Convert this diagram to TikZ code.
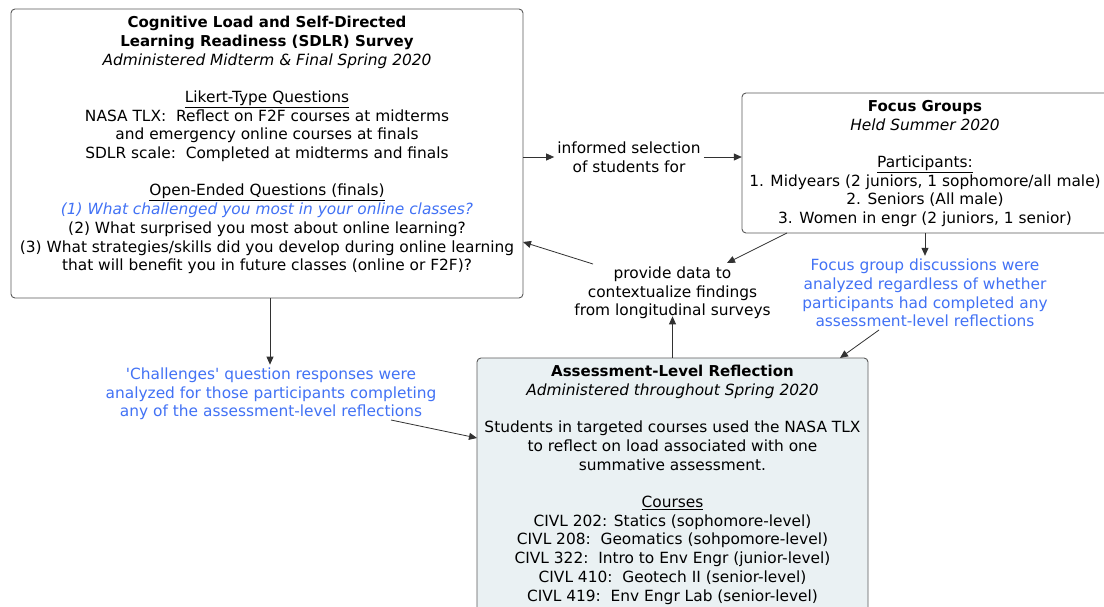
\documentclass[tikz,border=0pt]{standalone}
\usepackage{fontspec}
\setmainfont{DejaVu Sans}
\usetikzlibrary{arrows.meta,calc}
\definecolor{bluetxt}{RGB}{66,114,245}
\definecolor{boxline}{RGB}{90,90,90}
\definecolor{arrline}{RGB}{50,50,50}
\definecolor{boxfill}{RGB}{234,241,243}
\newcommand{\hd}[1]{{\fontsize{15}{18.7}\selectfont\bfseries #1}}
\tikzset{
  box/.style={draw=boxline, line width=0.9pt, rounded corners=4pt},
  txt/.style={align=center, inner sep=0pt, font=\fontsize{15.4}{18.7}\selectfont, text=black},
  bluetext/.style={txt, text=bluetxt},
  conn/.style={draw=arrline, line width=0.8pt, -{Triangle[length=8pt,width=7pt]}},
}
\begin{document}
\begin{tikzpicture}[x=1pt,y=-1pt]
\clip (0,0) rectangle (1104,606);
\fill[white] (0,0) rectangle (1104,606);
% boxes
\draw[box] (11,9) rectangle (523,298);
\node[inner sep=0pt, minimum width=512pt, minimum height=289pt] (box1) at (267,153.5) {};
\draw[box] (742,93) rectangle (1130,233);
\node[inner sep=0pt, minimum width=388pt, minimum height=140pt] (box2) at (936,163) {};
\draw[box, fill=boxfill] (477,358) rectangle (868,640);
\node[inner sep=0pt, minimum width=391pt, minimum height=282pt] (box3) at (672.5,499) {};
% box texts
\node[txt, anchor=north] (t1) at (267,16) {\hd{Cognitive Load and Self-Directed}\\
\hd{Learning Readiness (SDLR) Survey}\\
\textit{Administered Midterm \& Final Spring 2020}\\[18.7pt]
\underline{Likert-Type Questions}\\
NASA TLX:\ \ Reflect on F2F courses at midterms\\
and emergency online courses at finals\\
SDLR scale:\ \ Completed at midterms and finals\\[18.7pt]
\underline{Open-Ended Questions (finals)}\\
\textcolor{bluetxt}{\textit{(1) What challenged you most in your online classes?}}\\
(2) What surprised you most about online learning?\\
(3) What strategies/skills did you develop during online learning\\
that will benefit you in future classes (online or F2F)?};
\node[txt, anchor=north] (t2) at (925,100) {\hd{Focus Groups}\\
\textit{Held Summer 2020}\\[18.7pt]
\underline{Participants:}\\
1. Midyears (2 juniors, 1 sophomore/all male)\\
2. Seniors (All male)\\
3. Women in engr (2 juniors, 1 senior)};
\node[txt, anchor=north] (t3) at (672.5,365) {\hd{Assessment-Level Reflection}\\
\textit{Administered throughout Spring 2020}\\[18.7pt]
Students in targeted courses used the NASA TLX\\
to reflect on load associated with one\\
summative assessment.\\[18.7pt]
\underline{Courses}\\
CIVL 202: Statics (sophomore-level)\\
CIVL 208:\ \ Geomatics (sohpomore-level)\\
CIVL 322:\ \ Intro to Env Engr (junior-level)\\
CIVL 410:\ \ Geotech II (senior-level)\\
CIVL 419:\ \ Env Engr Lab (senior-level)};
% labels
\node[txt, inner xsep=3pt] (sel) at (629,157) {informed selection\\of students for};
\node[txt] (prov) at (672.5,293) {provide data to\\contextualize findings\\from longitudinal surveys};
\node[bluetext] (chal) at (271,394) {\textquotesingle Challenges\textquotesingle\ question responses were\\analyzed for those participants completing\\any of the assessment-level reflections};
\node[bluetext] (fgd) at (925,293) {Focus group discussions were\\analyzed regardless of whether\\participants had completed any\\assessment-level reflections};
% connector end points
\coordinate (a3s) at (787,233);
\coordinate (a3e) at (727,263);
\coordinate (a4s) at (593,264);
\coordinate (a4e) at (523,242);
\coordinate (a7s) at (879,330);
\coordinate (a7e) at (840,358);
\coordinate (a9s) at (391,420);
\coordinate (a9e) at (477,438);
% connectors
\draw[conn] (box1.east |- sel.west) -- (sel.west);
\draw[conn] (sel.east) -- (box2.west |- sel.east);
\draw[conn] (a3s) -- (a3e);
\draw[conn] (a4s) -- (a4e);
\draw[conn] (box3.north) -- ($(prov.south)+(0,-3)$);
\draw[conn] (box2.south -| fgd.north) -- ($(fgd.north)+(0,-3)$);
\draw[conn] (a7s) -- (a7e);
\draw[conn] (box1.south -| 270,0) -- ($(chal.north -| 270,0)+(0,-3)$);
\draw[conn] (a9s) -- (a9e);
\end{tikzpicture}
\end{document}
